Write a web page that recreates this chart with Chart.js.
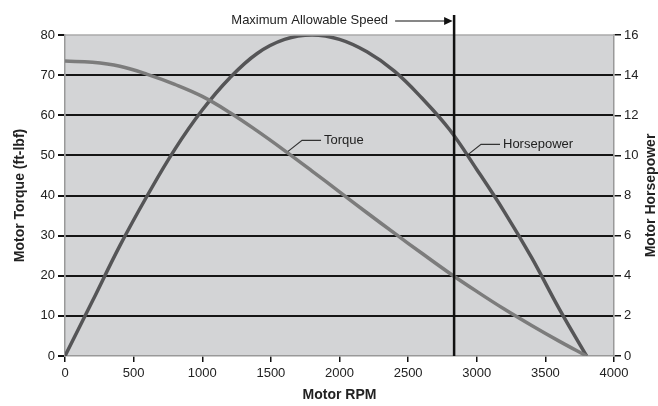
<!DOCTYPE html>
<html>
<head>
<meta charset="utf-8">
<script src="https://cdn.jsdelivr.net/npm/chart.js@4.4.1/dist/chart.umd.min.js"></script>
<style>
    html, body { margin: 0; padding: 0; background: #fff; }
    #wrap { width: 658px; height: 406px; }
</style>
</head>
<body>
<div id="wrap"><canvas id="motorChart" width="658" height="406"></canvas></div>
<script>
// Data
const rpm = [0, 200, 400, 600, 800, 1000, 1200, 1400, 1600, 1800, 2000, 2200, 2400, 2600, 2800, 3000, 3200, 3400, 3600, 3800];
const torque = [73.5, 73.2, 72.2, 70.2, 67.7, 64.7, 60.7, 56.1, 51.2, 46.1, 40.9, 35.7, 30.6, 25.6, 20.7, 16.1, 11.7, 7.6, 3.7, 0];
const horsepower = [0, 2.74, 5.5, 8.0, 10.3, 12.26, 13.86, 15.08, 15.78, 16.0, 15.78, 15.16, 14.2, 12.86, 11.3, 9.3, 7.2, 4.9, 2.36, 0];
const torqueTicks = [0, 10, 20, 30, 40, 50, 60, 70, 80];
const hpTicks = [0, 2, 4, 6, 8, 10, 12, 14, 16];
const rpmTicks = [0, 500, 1000, 1500, 2000, 2500, 3000, 3500, 4000];

const maxSpeed = 2835;
const torqueLabel = { rpm: 1625, value: 51, text: 'Torque' };
const hpLabel = { rpm: 2929, value: 10, text: 'Horsepower' };

const FONT = '"Liberation Sans", Arial, Helvetica, sans-serif';

/**
 * Plot background, top border, max speed line, callouts, right title
 */
const decorPlugin = {
    id: 'decor',
    beforeDraw(chart) {
        const a = chart.chartArea;
        const ctx = chart.ctx;
        ctx.save();
        ctx.fillStyle = '#d3d4d6';
        ctx.fillRect(a.left, a.top, a.right - a.left, a.bottom - a.top);
        ctx.restore();
    },
    afterDatasetsDraw(chart) {
        const a = chart.chartArea;
        const ctx = chart.ctx;
        const x = chart.scales.x;
        const y = chart.scales.y;
        const y1 = chart.scales.y1;
        ctx.save();

        // top border
        ctx.strokeStyle = '#aaa';
        ctx.lineWidth = 1.5;
        ctx.beginPath();
        ctx.moveTo(a.left, a.top);
        ctx.lineTo(a.right, a.top);
        ctx.stroke();

        // max allowable speed line
        const vx = x.getPixelForValue(maxSpeed);
        ctx.strokeStyle = '#111';
        ctx.lineWidth = 2.5;
        ctx.beginPath();
        ctx.moveTo(vx, a.top - 20);
        ctx.lineTo(vx, a.bottom);
        ctx.stroke();

        // arrow + label
        const ay = a.top - 14;
        ctx.lineWidth = 1.2;
        ctx.beginPath();
        ctx.moveTo(vx - 59, ay);
        ctx.lineTo(vx - 8, ay);
        ctx.stroke();
        ctx.fillStyle = '#111';
        ctx.beginPath();
        ctx.moveTo(vx - 1.5, ay);
        ctx.lineTo(vx - 10, ay - 4);
        ctx.lineTo(vx - 10, ay + 4);
        ctx.closePath();
        ctx.fill();
        ctx.font = '13px ' + FONT;
        ctx.textAlign = 'right';
        ctx.textBaseline = 'middle';
        ctx.fillStyle = '#222';
        ctx.fillText('Maximum Allowable Speed', vx - 66, ay - 1);

        // curve callouts
        const callout = (px, py, text) => {
            ctx.strokeStyle = '#333';
            ctx.lineWidth = 1.2;
            ctx.beginPath();
            ctx.moveTo(px, py);
            ctx.lineTo(px + 14, py - 11);
            ctx.lineTo(px + 33, py - 11);
            ctx.stroke();
            ctx.textAlign = 'left';
            ctx.fillStyle = '#222';
            ctx.fillText(text, px + 36, py - 11);
        };
        callout(x.getPixelForValue(torqueLabel.rpm), y.getPixelForValue(torqueLabel.value), torqueLabel.text);
        callout(x.getPixelForValue(hpLabel.rpm), y1.getPixelForValue(hpLabel.value), hpLabel.text);

        // right axis title, reading bottom to top like the left one
        ctx.translate(651, (a.top + a.bottom) / 2);
        ctx.rotate(-Math.PI / 2);
        ctx.font = 'bold 14px ' + FONT;
        ctx.textAlign = 'center';
        ctx.textBaseline = 'middle';
        ctx.fillText('Motor Horsepower', 0, 0);

        ctx.restore();
    }
};

const tickFont = { family: FONT, size: 13 };
const titleFont = { family: FONT, size: 14, weight: 'bold' };

new Chart(document.getElementById('motorChart'), {
    type: 'line',
    data: {
        datasets: [{
            label: 'Torque',
            data: rpm.map((r, i) => ({ x: r, y: torque[i] })),
            yAxisID: 'y',
            borderColor: '#7c7c7c',
            borderWidth: 3.5,
            pointRadius: 0,
            tension: 0.4,
            fill: false
        }, {
            label: 'Horsepower',
            data: rpm.map((r, i) => ({ x: r, y: horsepower[i] })),
            yAxisID: 'y1',
            borderColor: '#555557',
            borderWidth: 3.5,
            pointRadius: 0,
            tension: 0.4,
            fill: false
        }]
    },
    options: {
        responsive: false,
        animation: false,
        layout: { padding: { left: 12, right: 0, top: 35, bottom: 0 } },
        plugins: {
            legend: { display: false },
            tooltip: { enabled: false }
        },
        scales: {
            x: {
                type: 'linear',
                min: 0,
                max: 4000,
                afterBuildTicks: s => { s.ticks = rpmTicks.map(v => ({ value: v })); },
                afterFit: s => { s.height = 50; },
                ticks: { font: tickFont, color: '#222', padding: 4, maxRotation: 0, callback: v => String(v) },
                grid: { drawOnChartArea: false, tickLength: 6, tickColor: '#111', lineWidth: 1.5 },
                border: { color: '#999', width: 1.5 },
                title: { display: true, text: 'Motor RPM', font: titleFont, color: '#222', padding: { top: 0, bottom: 2 } }
            },
            y: {
                min: 0,
                max: 80,
                afterBuildTicks: s => { s.ticks = torqueTicks.map(v => ({ value: v })); },
                afterFit: s => { s.width = 53; },
                ticks: { font: tickFont, color: '#222', padding: 3 },
                grid: {
                    color: c => (c.tick && (c.tick.value === 0 || c.tick.value === 80)) ? 'rgba(0,0,0,0)' : '#151515',
                    lineWidth: 2,
                    tickLength: 7,
                    tickColor: '#111'
                },
                border: { color: '#999', width: 1.5 },
                title: { display: true, text: 'Motor Torque (ft-lbf)', font: titleFont, color: '#222', padding: { top: 0, bottom: 0 } }
            },
            y1: {
                position: 'right',
                min: 0,
                max: 16,
                afterBuildTicks: s => { s.ticks = hpTicks.map(v => ({ value: v })); },
                afterFit: s => { s.width = 44; },
                ticks: { font: tickFont, color: '#222', padding: 3 },
                grid: { drawOnChartArea: false, tickLength: 7, tickColor: '#111', lineWidth: 1.5 },
                border: { color: '#999', width: 1.5 },
                title: { display: false }
            }
        }
    },
    plugins: [decorPlugin]
});
</script>
</body>
</html>
